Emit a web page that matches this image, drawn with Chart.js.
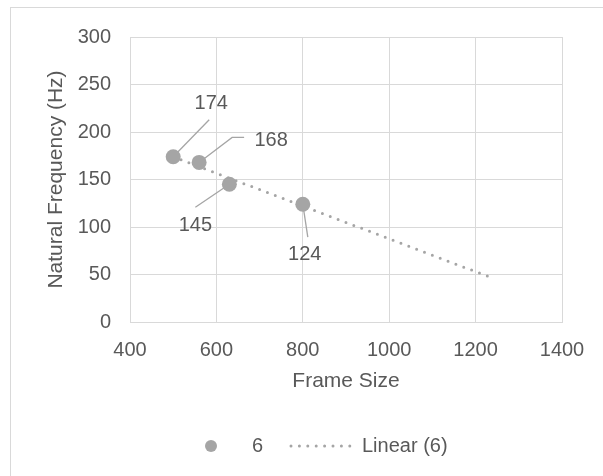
<!DOCTYPE html>
<html lang="en">
<head>
  <meta charset="UTF-8" />
  <title>Natural Frequency vs Frame Size</title>
  <script src="https://cdn.jsdelivr.net/npm/chart.js"></script>
  <style>
    body { margin: 0; background: #fff; }
    .wrap { position: relative; width: 603px; height: 476px; overflow: hidden; }
    .frame { position: absolute; left: 10px; top: 7px; width: 620px; height: 500px; border: 1px solid #d9d9d9; }
    canvas { position: absolute; left: 0; top: 0; }
  </style>
</head>
<body>
  <div class="wrap">
    <div class="frame"></div>
    <canvas id="freqChart" width="603" height="476"></canvas>
  </div>

  <script>
    const frameSizes = [500, 560, 630, 800];
    const frequencies = [174, 168, 145, 124];
    const trendStart = 500;
    const trendEnd = 1240;
    const xTicks = [400, 600, 800, 1000, 1200, 1400];
    const yTicks = [0, 50, 100, 150, 200, 250, 300];
    const seriesName = '6';
    const trendName = 'Linear (6)';

    const textColor = '#595959';
    const markColor = '#a5a5a5';
    const gridColor = '#d9d9d9';
    const fontFamily = "'Liberation Sans', Arial, sans-serif";
    const fontSize = 20;
    const titleSize = 21;

    // least squares fit for the trend line
    function linearFit(xs, ys) {
      const n = xs.length;
      const mx = xs.reduce((a, b) => a + b, 0) / n;
      const my = ys.reduce((a, b) => a + b, 0) / n;
      let sxy = 0, sxx = 0;
      xs.forEach((x, i) => { sxy += (x - mx) * (ys[i] - my); sxx += (x - mx) * (x - mx); });
      const slope = sxy / sxx;
      return x => my + slope * (x - mx);
    }
    const fit = linearFit(frameSizes, frequencies);

    // label placement (pixel offsets from each point) and leader line bends
    const labelOffsets = [
      { lx: 38, ly: -53, path: [[36, -37]] },
      { lx: 72, ly: -22, path: [[33, -25], [45, -25]] },
      { lx: -34, ly: 41, path: [[-34, 23]] },
      { lx: 2, ly: 50, path: [[5, 33]] }
    ];

    const calloutPlugin = {
      id: 'callouts',
      beforeDatasetsDraw(chart) {
        const ctx = chart.ctx;
        const meta = chart.getDatasetMeta(0);
        ctx.save();
        ctx.strokeStyle = markColor;
        ctx.lineWidth = 1.3;
        meta.data.forEach((pt, i) => {
          const o = labelOffsets[i];
          ctx.beginPath();
          ctx.moveTo(pt.x, pt.y);
          o.path.forEach(p => ctx.lineTo(pt.x + p[0], pt.y + p[1]));
          ctx.stroke();
        });
        ctx.restore();
      },
      afterDatasetsDraw(chart) {
        const ctx = chart.ctx;
        const meta = chart.getDatasetMeta(0);
        ctx.save();
        ctx.fillStyle = textColor;
        ctx.font = fontSize + 'px ' + fontFamily;
        ctx.textAlign = 'center';
        ctx.textBaseline = 'middle';
        meta.data.forEach((pt, i) => {
          const o = labelOffsets[i];
          ctx.fillText(String(frequencies[i]), pt.x + o.lx, pt.y + o.ly);
        });
        ctx.restore();
      },
      afterDraw(chart) {
        // legend along the bottom
        const ctx = chart.ctx;
        const y = 446;
        ctx.save();
        ctx.fillStyle = markColor;
        ctx.beginPath();
        ctx.arc(211, y, 6, 0, Math.PI * 2);
        ctx.fill();
        ctx.strokeStyle = markColor;
        ctx.lineWidth = 3;
        ctx.lineCap = 'round';
        ctx.setLineDash([0, 8.4]);
        ctx.beginPath();
        ctx.moveTo(291, y);
        ctx.lineTo(358, y);
        ctx.stroke();
        ctx.setLineDash([]);
        ctx.fillStyle = textColor;
        ctx.font = fontSize + 'px ' + fontFamily;
        ctx.textBaseline = 'middle';
        ctx.fillText(seriesName, 252, y);
        ctx.fillText(trendName, 362, y);
        ctx.restore();
      }
    };

    new Chart(document.getElementById('freqChart'), {
      type: 'scatter',
      data: {
        datasets: [
          {
            label: seriesName,
            data: frameSizes.map((x, i) => ({ x: x, y: frequencies[i] })),
            backgroundColor: markColor,
            borderColor: markColor,
            pointRadius: 7.5,
            pointHoverRadius: 7.5,
            borderWidth: 0
          },
          {
            label: trendName,
            data: [trendStart, trendEnd].map(x => ({ x: x, y: fit(x) })),
            showLine: true,
            pointRadius: 0,
            borderColor: markColor,
            borderWidth: 3,
            borderDash: [0, 8.4],
            borderCapStyle: 'round'
          }
        ]
      },
      options: {
        responsive: false,
        animation: false,
        layout: { padding: { left: 0, top: 37, right: 41, bottom: 80 } },
        plugins: {
          legend: { display: false },
          tooltip: { enabled: false }
        },
        scales: {
          x: {
            type: 'linear',
            min: xTicks[0],
            max: xTicks[xTicks.length - 1],
            afterBuildTicks: s => { s.ticks = xTicks.map(v => ({ value: v })); },
            afterFit: s => { s.height = 74; },
            grid: { color: gridColor, drawTicks: false },
            border: { color: gridColor },
            ticks: { color: textColor, font: { size: fontSize, family: fontFamily }, padding: 16, callback: v => String(v) },
            title: {
              display: true,
              text: 'Frame Size',
              color: textColor,
              font: { size: titleSize, family: fontFamily },
              padding: { bottom: 2 }
            }
          },
          y: {
            min: yTicks[0],
            max: yTicks[yTicks.length - 1],
            afterBuildTicks: s => { s.ticks = yTicks.map(v => ({ value: v })); },
            afterFit: s => { s.width = 130; },
            grid: { color: gridColor, drawTicks: false },
            border: { color: gridColor },
            ticks: { color: textColor, font: { size: fontSize, family: fontFamily }, padding: 19, callback: v => String(v) },
            title: {
              display: true,
              text: 'Natural Frequency (Hz)',
              color: textColor,
              font: { size: titleSize, family: fontFamily },
              padding: { top: 44 }
            }
          }
        }
      },
      plugins: [calloutPlugin]
    });
  </script>
</body>
</html>
